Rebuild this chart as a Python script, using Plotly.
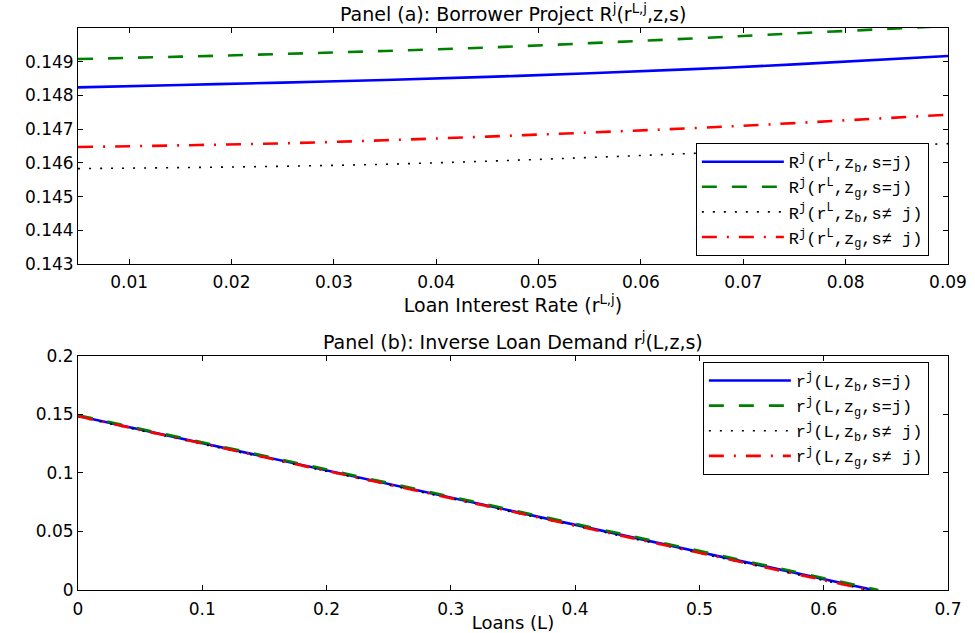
import plotly.graph_objects as go

# Panel (a): borrower project return against the loan interest rate
loan_rate = [0.005, 0.015, 0.025, 0.035, 0.045, 0.055, 0.065, 0.075, 0.09]
R_zb_same = [0.14824, 0.14831, 0.14838, 0.14846, 0.14855, 0.14866, 0.14878, 0.14892, 0.14917]
R_zg_same = [0.14908, 0.14915, 0.14923, 0.14932, 0.14942, 0.14955, 0.14969, 0.14984, 0.15006]
R_zb_other = [0.14583, 0.14586, 0.14590, 0.14596, 0.14605, 0.14616, 0.14628, 0.14640, 0.14657]
R_zg_other = [0.14647, 0.14652, 0.14658, 0.14667, 0.14678, 0.14690, 0.14703, 0.14718, 0.14743]

# Panel (b): inverse loan demand
L_zb_same = [0.0, 0.1, 0.2, 0.3, 0.4, 0.5, 0.6, 0.640]
r_zb_same = [0.1485, 0.1253, 0.1021, 0.0789, 0.0557, 0.0325, 0.0093, 0.0]
L_zg_same = [0.0, 0.1, 0.2, 0.3, 0.4, 0.5, 0.6, 0.644]
r_zg_same = [0.1492, 0.1261, 0.1029, 0.0797, 0.0565, 0.0334, 0.0102, 0.0]
L_zb_other = [0.0, 0.1, 0.2, 0.3, 0.4, 0.5, 0.6, 0.635]
r_zb_other = [0.1478, 0.1245, 0.1012, 0.0779, 0.0546, 0.0314, 0.0081, 0.0]
L_zg_other = [0.0, 0.1, 0.2, 0.3, 0.4, 0.5, 0.6, 0.636]
r_zg_other = [0.1483, 0.1250, 0.1017, 0.0784, 0.0551, 0.0318, 0.0085, 0.0]

ticks_a_x = [0.01, 0.02, 0.03, 0.04, 0.05, 0.06, 0.07, 0.08, 0.09]
ticks_a_y = [0.143, 0.144, 0.145, 0.146, 0.147, 0.148, 0.149]
ticks_b_x = [0, 0.1, 0.2, 0.3, 0.4, 0.5, 0.6, 0.7]
ticks_b_x_text = ["0", "0.1", "0.2", "0.3", "0.4", "0.5", "0.6", "0.7"]
ticks_b_y = [0, 0.05, 0.1, 0.15, 0.2]
ticks_b_y_text = ["0", "0.05", "0.1", "0.15", "0.2"]

SANS = "DejaVu Sans"
MONO = "Liberation Mono"

styles = [
    dict(color="#0000FF", width=2.6, dash="solid"),
    dict(color="#008000", width=2.6, dash="15px,15px"),
    dict(color="#000000", width=1.6, dash="2px,9px"),
    dict(color="#FF0000", width=2.6, dash="15px,10px,2px,10px"),
]

names_a = [
    "R<sup>j</sup>(r<sup>L</sup>,z<sub>b</sub>,s=j)",
    "R<sup>j</sup>(r<sup>L</sup>,z<sub>g</sub>,s=j)",
    "R<sup>j</sup>(r<sup>L</sup>,z<sub>b</sub>,s\u2260 j)",
    "R<sup>j</sup>(r<sup>L</sup>,z<sub>g</sub>,s\u2260 j)",
]
names_b = [
    "r<sup>j</sup>(L,z<sub>b</sub>,s=j)",
    "r<sup>j</sup>(L,z<sub>g</sub>,s=j)",
    "r<sup>j</sup>(L,z<sub>b</sub>,s\u2260 j)",
    "r<sup>j</sup>(L,z<sub>g</sub>,s\u2260 j)",
]

fig = go.Figure()

series_a = [R_zb_same, R_zg_same, R_zb_other, R_zg_other]
for name, ys, st in zip(names_a, series_a, styles):
    fig.add_trace(go.Scatter(x=loan_rate, y=ys, mode="lines", name=name,
                             line=dict(shape="spline", **st),
                             xaxis="x", yaxis="y", legend="legend"))

series_b = [(L_zb_same, r_zb_same), (L_zg_same, r_zg_same),
            (L_zb_other, r_zb_other), (L_zg_other, r_zg_other)]
for name, (xs, ys), st in zip(names_b, series_b, styles):
    fig.add_trace(go.Scatter(x=xs, y=ys, mode="lines", name=name,
                             line=st, xaxis="x2", yaxis="y2", legend="legend2"))

axis_common = dict(showline=True, linecolor="black", linewidth=1, mirror="ticks",
                   ticks="inside", ticklen=5, tickcolor="black", showgrid=False,
                   zeroline=False, automargin=False,
                   tickfont=dict(family=SANS, size=17, color="black"))

legend_common = dict(bgcolor="white", bordercolor="black", borderwidth=1,
                     font=dict(family=MONO, size=17, color="black"),
                     xanchor="right", itemwidth=82, tracegroupgap=0)

fig.update_layout(
    width=975, height=633,
    margin=dict(l=78, r=27, t=28, b=43),
    paper_bgcolor="white", plot_bgcolor="white",
    showlegend=True,
    xaxis=dict(domain=[0, 1], range=[0.005, 0.09], tickvals=ticks_a_x, anchor="y",
               ticklabelstandoff=3,
               title=dict(text="Loan Interest Rate (r<sup>L,j</sup>)",
                          font=dict(family=SANS, size=19, color="black"), standoff=2),
               **axis_common),
    yaxis=dict(domain=[0.58, 1.0], range=[0.143, 0.150], tickvals=ticks_a_y,
               tickformat=".3f", anchor="x", **axis_common),
    xaxis2=dict(domain=[0, 1], range=[0, 0.7], tickvals=ticks_b_x, ticktext=ticks_b_x_text,
                anchor="y2", ticklabelstandoff=4,
                title=dict(text="Loans (L)", font=dict(family=SANS, size=18, color="black"),
                           standoff=0),
                **axis_common),
    yaxis2=dict(domain=[0, 0.417], range=[0, 0.2], tickvals=ticks_b_y, ticktext=ticks_b_y_text,
                anchor="x2", **axis_common),
    legend=dict(x=0.978, y=0.594, yanchor="bottom", **legend_common),
    legend2=dict(x=0.978, y=0.4057, yanchor="top", **legend_common),
    annotations=[
        dict(text="Panel (a): Borrower Project R<sup>j</sup>(r<sup>L,j</sup>,z,s)",
             xref="paper", yref="paper", x=0.5, y=1.0, yshift=1, xanchor="center",
             yanchor="bottom", showarrow=False,
             font=dict(family=SANS, size=19, color="black")),
        dict(text="Panel (b): Inverse Loan Demand r<sup>j</sup>(L,z,s)",
             xref="paper", yref="paper", x=0.5, y=0.417, yshift=1, xanchor="center",
             yanchor="bottom", showarrow=False,
             font=dict(family=SANS, size=19, color="black")),
    ],
)

fig.write_html("out.html")
